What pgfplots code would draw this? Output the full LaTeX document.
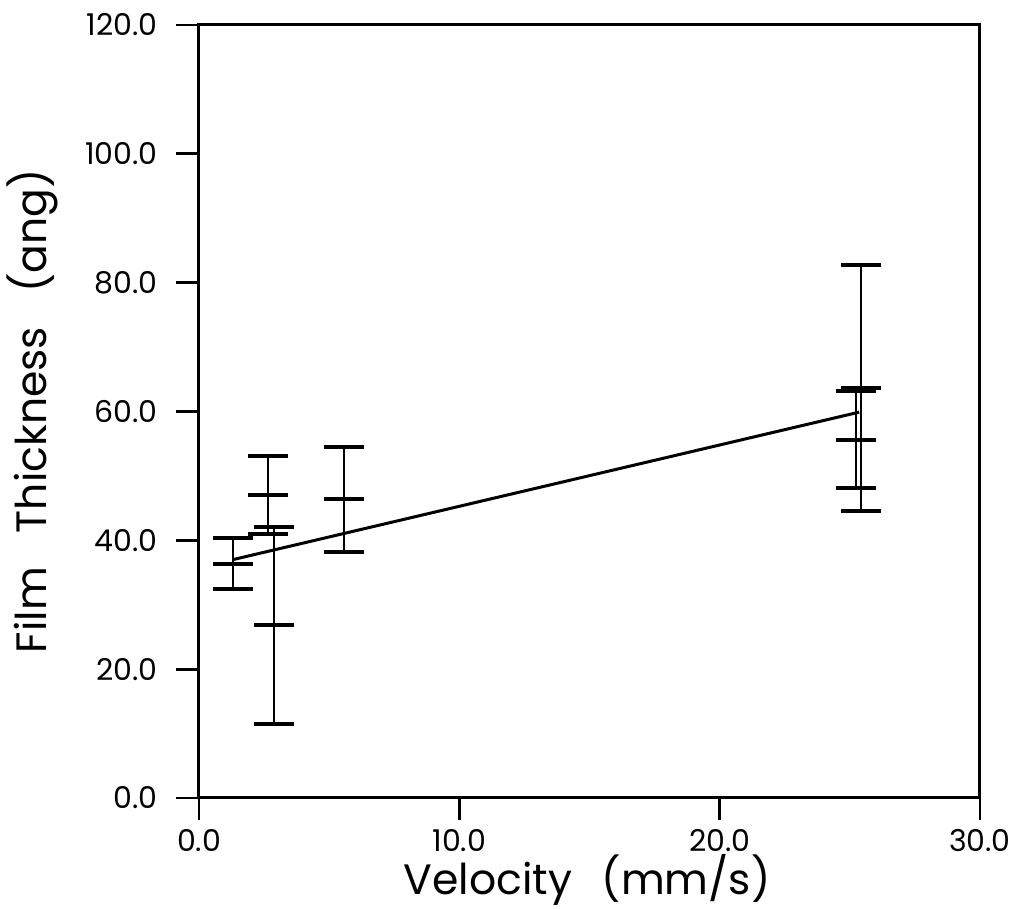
\documentclass[border=0pt]{standalone}
\usepackage{pgfplots}
\pgfplotsset{compat=1.18}
\usepackage{fontspec}
\setmainfont{Poppins}
\begin{document}
\begin{tikzpicture}
\begin{axis}[
  name=ax,
  scale only axis,
  width=312.4pt, height=309.2pt,
  xmin=0, xmax=30, ymin=0, ymax=120,
  xtick={0,10,20,30}, ytick={0,20,40,60,80,100,120},
  minor tick num=0,
  xtick pos=bottom, ytick pos=left,
  tick align=outside,
  major tick length=9pt,
  axis line style={line width=1.2pt},
  every tick/.style={black, line width=1.1pt},
  /pgf/number format/.cd, fixed, fixed zerofill, precision=1, assume math mode=true,
  /pgfplots/.cd,
  tick label style={font=\fontsize{12}{14}\selectfont},
  yticklabel style={xshift=-4pt},
  xlabel={Velocity\hspace{0.7em}(mm/s)},
  ylabel={Film\hspace{0.8em}Thickness\hspace{0.8em}(ang)},
  label style={font=\fontsize{17}{20}\selectfont},
  xlabel style={at={([yshift=-38.8pt]axis description cs:0.497,0)}, anchor=base},
  ylabel style={at={([xshift=-61pt]axis description cs:0,0.5)}, anchor=base, rotate=0},
  clip=false,
]
\addplot[black, line width=0.8pt, only marks, mark=-, mark size=8pt,
  mark options={line width=1.6pt},
  error bars/.cd, y dir=both, y explicit,
  error mark=|,
  error bar style={line width=0.8pt},
  error mark options={line width=1.6pt, mark size=8pt}]
  coordinates {
  (1.30,36.4) +- (0,4.0)
  (2.65,47.05) +- (0,6.05)
  (2.88,26.8) +- (0,15.3)
  (5.57,46.35) +- (0,8.15)
  (25.43,63.7) +- (0,19.1)
  (25.24,55.65) +- (0,7.55)
  };
\addplot[black, line width=1.2pt] coordinates {(1.3,37.0) (25.36,59.9)};
\end{axis}
\pgfresetboundingbox
\useasboundingbox ([shift={(-79.6pt,-44.4pt)}]ax.south west) rectangle ([shift={(325.6pt,319.2pt)}]ax.south west);
\end{tikzpicture}
\end{document}
